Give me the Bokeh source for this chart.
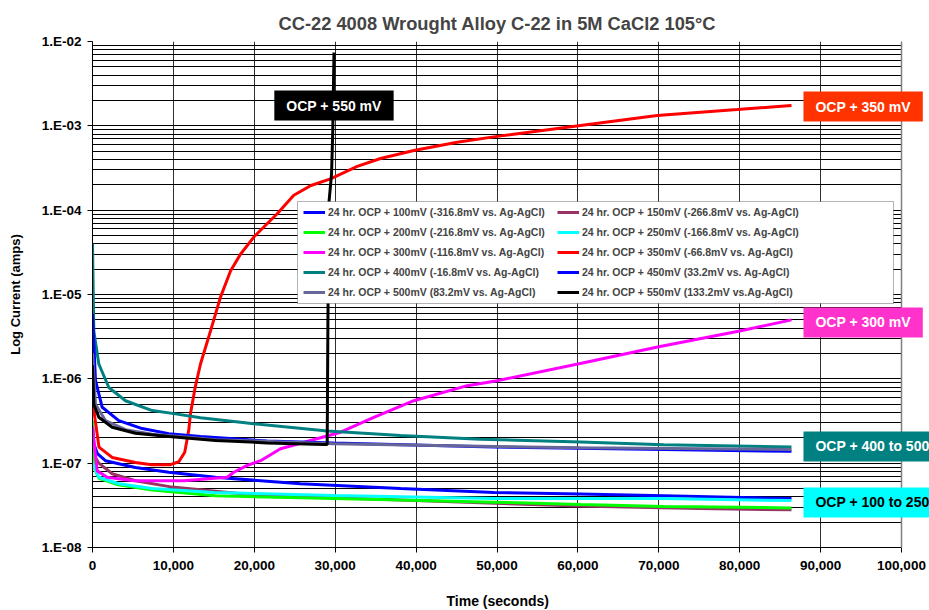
from bokeh.plotting import figure
from bokeh.models import (Range1d, FixedTicker, Legend, LegendItem, Label,
                          BoxAnnotation, Span, Title)
from bokeh.embed import file_html
from bokeh.resources import INLINE

FONT = "Liberation Sans"

# --- measured current vs. time, 24 h potentiostatic holds ---------------
t_100 = [0, 160, 600, 1600, 5300, 9430, 15200, 25710, 38070, 49600, 60320, 70620, 86400]
i_100 = [3.0e-7, 1.7e-7, 1.3e-7, 1.07e-7, 8.9e-8, 7.8e-8, 6.8e-8, 5.7e-8, 5.0e-8, 4.5e-8, 4.3e-8, 4.1e-8, 3.8e-8]

t_150 = [0, 300, 780, 2430, 5300, 9850, 20000, 40000, 60000, 75000, 86400]
i_150 = [1.7e-7, 1.2e-7, 1.0e-7, 7.5e-8, 6.2e-8, 5.2e-8, 4.2e-8, 3.6e-8, 3.1e-8, 2.9e-8, 2.8e-8]

t_200 = [0, 150, 800, 3000, 7380, 15200, 25710, 38070, 49600, 60320, 70620, 86400]
i_200 = [3.2e-7, 9.0e-8, 6.6e-8, 5.6e-8, 4.8e-8, 4.1e-8, 3.9e-8, 3.65e-8, 3.45e-8, 3.24e-8, 3.06e-8, 2.95e-8]

t_250 = [0, 780, 3250, 7380, 15000, 29830, 49600, 70620, 86400]
i_250 = [1.0e-7, 6.8e-8, 5.7e-8, 5.0e-8, 4.5e-8, 4.13e-8, 3.8e-8, 3.8e-8, 3.6e-8]

t_300 = [0, 580, 1810, 5100, 11290, 16650, 17470, 19120, 20770, 23240, 26950,
         30660, 34770, 39720, 46320, 50020, 60000, 70000, 80000, 86400]
i_300 = [2.7e-7, 8.1e-8, 6.8e-8, 6.2e-8, 6.2e-8, 6.8e-8, 7.8e-8, 9.4e-8, 1.07e-7, 1.48e-7, 1.86e-7,
         2.33e-7, 3.5e-7, 5.5e-7, 8.3e-7, 9.5e-7, 1.5e-6, 2.4e-6, 3.7e-6, 5.0e-6]

t_350 = [0, 800, 2430, 5300, 7300, 9640, 10670, 11400, 11900, 12110, 12700, 13350,
         14590, 15820, 17060, 18290, 19940, 22830, 24880, 27000, 29420, 32720, 35600,
         39720, 45070, 50020, 60320, 69800, 79690, 86400]
i_350 = [5.5e-7, 1.55e-7, 1.17e-7, 1.02e-7, 9.6e-8, 9.6e-8, 1.04e-7, 1.35e-7, 2.45e-7, 3.85e-7, 8.0e-7, 1.5e-6,
         3.7e-6, 9.3e-6, 1.9e-5, 3.0e-5, 4.8e-5, 9.06e-5, 1.5e-4, 1.96e-4, 2.35e-4, 3.3e-4, 4.1e-4,
         5.1e-4, 6.4e-4, 7.5e-4, 1.01e-3, 1.33e-3, 1.56e-3, 1.74e-3]

t_400 = [0, 160, 780, 2020, 4080, 7380, 10260, 13350, 19940, 29010, 38070, 47960, 60320, 70620, 86400]
i_400 = [4.0e-5, 3.7e-6, 1.5e-6, 7.9e-7, 5.5e-7, 4.2e-7, 3.84e-7, 3.45e-7, 2.94e-7, 2.4e-7, 2.13e-7,
         1.92e-7, 1.78e-7, 1.65e-7, 1.55e-7]

t_450 = [0, 370, 1200, 3250, 6140, 9430, 13350, 21590, 29830, 49600, 70620, 86400]
i_450 = [5.9e-6, 9.6e-7, 4.6e-7, 3.2e-7, 2.57e-7, 2.24e-7, 2.07e-7, 1.83e-7, 1.73e-7, 1.55e-7, 1.45e-7, 1.38e-7]

t_500 = [0, 370, 1600, 4080, 7380, 11500, 15200, 29830, 60320, 86400]
i_500 = [2.0e-6, 5.0e-7, 3.2e-7, 2.5e-7, 2.2e-7, 2.04e-7, 1.9e-7, 1.7e-7, 1.52e-7, 1.45e-7]

t_550 = [0, 160, 780, 2430, 5300, 9430, 15200, 21590, 28590, 29010, 29100, 29250, 29550, 29700, 29850]
i_550 = [1.45e-6, 5.0e-7, 3.5e-7, 2.67e-7, 2.26e-7, 2.07e-7, 1.86e-7, 1.74e-7, 1.66e-7, 1.66e-7,
         5.0e-6, 1.3e-4, 2.7e-4, 8.8e-4, 7.4e-3]

series_names = [
    "24 hr. OCP + 100mV (-316.8mV vs. Ag-AgCl)",
    "24 hr. OCP + 150mV (-266.8mV vs. Ag-AgCl)",
    "24 hr. OCP + 200mV (-216.8mV vs. Ag-AgCl)",
    "24 hr. OCP + 250mV (-166.8mV vs. Ag-AgCl)",
    "24 hr. OCP + 300mV (-116.8mV vs. Ag-AgCl)",
    "24 hr. OCP + 350mV (-66.8mV vs. Ag-AgCl)",
    "24 hr. OCP + 400mV (-16.8mV vs. Ag-AgCl)",
    "24 hr. OCP + 450mV (33.2mV vs. Ag-AgCl)",
    "24 hr. OCP + 500mV (83.2mV vs. Ag-AgCl)",
    "24 hr. OCP + 550mV (133.2mV vs.Ag-AgCl)",
]
series_colors = ["#0000FF", "#993366", "#00FF00", "#00FFFF", "#FF00FF",
                 "#FF0000", "#008080", "#0000FF", "#666699", "#000000"]
series_data = [(t_100, i_100), (t_150, i_150), (t_200, i_200), (t_250, i_250),
               (t_300, i_300), (t_350, i_350), (t_400, i_400), (t_450, i_450),
               (t_500, i_500), (t_550, i_550)]

y_ticks = [1e-8, 1e-7, 1e-6, 1e-5, 1e-4, 1e-3, 1e-2]
y_tick_labels = ["1.E-08", "1.E-07", "1.E-06", "1.E-05", "1.E-04", "1.E-03", "1.E-02"]
x_ticks = list(range(0, 100001, 10000))
x_tick_labels = ["0", "10,000", "20,000", "30,000", "40,000", "50,000",
                 "60,000", "70,000", "80,000", "90,000", "100,000"]

# callout boxes: (text, x, y, fill, text colour, alignment)
callouts = [
    ("OCP + 350 mV", 86400, 1.69e-3, "#FF3300", "white", "left"),
    ("OCP + 300 mV", 86400, 4.66e-6, "#FF33CC", "white", "left"),
    ("OCP + 400 to 500 mV", 86400, 1.58e-7, "#008080", "white", "left"),
    ("OCP + 100 to 250 mV", 86400, 3.42e-8, "#00FFFF", "black", "left"),
    ("OCP + 550 mV", 29850, 1.74e-3, "#000000", "white", "center"),
]

X_MAX = 100000
# the frame runs on past the last tick so the callouts can overhang the axis end
x_range = Range1d(0, X_MAX * 837 / 809)

p = figure(width=929, height=610, output_backend="svg", toolbar_location=None,
           y_axis_type="log", x_range=x_range, y_range=Range1d(1e-8, 1e-2),
           min_border_left=92, min_border_right=0, min_border_top=41,
           min_border_bottom=63)

p.title.text = "CC-22 4008 Wrought Alloy C-22 in 5M CaCl2 105°C"
p.title.align = "left"
p.title.offset = 186
p.title.text_font = FONT
p.title.text_font_size = "18.3px"
p.title.text_font_style = "bold"
p.title.standoff = 16

p.outline_line_color = None
p.background_fill_color = "white"
p.border_fill_color = "white"

minor = [m * d for d in y_ticks[:-1] for m in range(2, 10)]
yt = FixedTicker(ticks=y_ticks, minor_ticks=minor)
p.yaxis.ticker = yt
p.ygrid.ticker = yt
p.yaxis.major_label_overrides = {v: s for v, s in zip(y_ticks, y_tick_labels)}
xt = FixedTicker(ticks=x_ticks)
p.xaxis.ticker = xt
p.xgrid.ticker = xt
p.xaxis.major_label_overrides = {v: s for v, s in zip(x_ticks, x_tick_labels)}
p.xaxis.bounds = (0, X_MAX)

p.ygrid.grid_line_color = "#000000"
p.ygrid.minor_grid_line_color = "#000000"
p.ygrid.grid_line_width = 1
p.ygrid.minor_grid_line_width = 1
p.xgrid.grid_line_color = "#303030"
p.xgrid.grid_line_width = 1

for ax in (p.xaxis, p.yaxis):
    ax.axis_line_color = "black"
    ax.major_tick_line_color = "black"
    ax.major_tick_out = 5
    ax.major_tick_in = 0
    ax.minor_tick_out = 0
    ax.minor_tick_in = 0
    ax.major_label_text_font = FONT
    ax.major_label_text_font_style = "bold"
    ax.major_label_text_font_size = "13.5px"
    ax.major_label_text_color = "black"
    ax.axis_label_text_font = FONT
    ax.axis_label_text_font_style = "bold"
    ax.axis_label_text_font_size = "13px"
    ax.axis_label_text_color = "black"

p.yaxis.axis_label = "Log Current (amps)"
p.yaxis.major_label_standoff = 6
p.yaxis.axis_label_standoff = 16
p.xaxis.major_label_standoff = 8
# blank spacer below the tick labels; the real time-axis title follows
p.xaxis.axis_label = " "
p.xaxis.axis_label_text_font_size = "2px"
p.xaxis.axis_label_standoff = 13

# time-axis title, centred under the 0 - 100,000 span
p.add_layout(Title(text="Time (seconds)", align="left", offset=354, standoff=0,
                   text_font=FONT, text_font_style="bold", text_font_size="14px",
                   text_color="black"), "below")

renderers = []
for color, (t, i) in zip(series_colors, series_data):
    renderers.append(p.line(t, i, line_color=color, line_width=3))

# blank margin beyond the end of the time axis, with its grey edge
p.add_layout(BoxAnnotation(left=X_MAX, fill_color="white", fill_alpha=1.0,
                           line_color=None, level="annotation"))
p.add_layout(Span(location=X_MAX, dimension="height", line_color="#808080",
                  line_width=1.5, level="annotation"))

# legend frame
p.add_layout(BoxAnnotation(left=25340, right=99010, bottom=7.82e-6, top=1.268e-4,
                           fill_color="white", fill_alpha=1.0,
                           line_color="black", line_width=1, level="overlay"))

# two columns, filled column by column: odd entries left, even entries right
order = [0, 2, 4, 6, 8, 1, 3, 5, 7, 9]
items = [LegendItem(label=series_names[k], renderers=[renderers[k]]) for k in order]
legend = Legend(items=items, ncols=2, location=(211, 245),
                label_text_font=FONT, label_text_font_style="bold",
                label_text_font_size="10.5px", label_height=20, glyph_height=20,
                glyph_width=22, label_standoff=3, label_width=229, spacing=0,
                padding=0, margin=0, border_line_color=None,
                background_fill_alpha=0)
p.add_layout(legend)

for text, x, y, fill, tcol, align in callouts:
    p.add_layout(Label(x=x, y=y, text=text, text_align=align, text_baseline="middle",
                       x_offset=12 if align == "left" else 0,
                       text_font=FONT, text_font_style="bold", text_font_size="14px",
                       text_color=tcol, background_fill_color=fill,
                       background_fill_alpha=1.0, padding=(12, 7)))

open("out.html", "w").write(file_html(p, INLINE))
